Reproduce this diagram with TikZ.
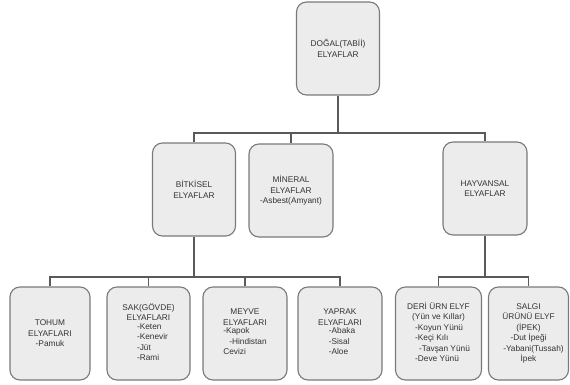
\documentclass[tikz,border=0pt]{standalone}
\usepackage{fontspec}
\setmainfont{Liberation Sans}
\definecolor{boxfill}{HTML}{ECECEC}
\definecolor{boxline}{HTML}{7A7A7A}
\definecolor{txt}{HTML}{333333}
\definecolor{conn}{HTML}{5A5A5A}
\begin{document}
\begin{tikzpicture}[x=1pt,y=-1pt,
  fbox/.style={draw=boxline, line width=1.1pt, fill=boxfill, rounded corners=10pt,
    minimum width=82pt, minimum height=93pt, inner sep=1pt, align=center,
    text=txt, font=\fontsize{8.3}{10.5}\selectfont},
  wire/.style={draw=conn, line width=1.3pt}]
\useasboundingbox (0,0) rectangle (570,385);
\fill[white] (0,0) rectangle (570,385);
\newcommand{\items}[1]{\begin{tabular}{@{}l@{}}#1\end{tabular}}
% level 1
\node[fbox, minimum width=83pt] (top) at (338,48.5) {DOĞAL(TABİİ)\\ELYAFLAR};
% level 2
\node[fbox, minimum width=83pt] (bit) at (194,189.5) {BİTKİSEL\\ELYAFLAR};
\node[fbox, minimum width=84pt] (min) at (291,190.5) {MİNERAL\\ELYAFLAR\\-Asbest(Amyant)};
\node[fbox, minimum width=84pt] (hay) at (485,188.5) {HAYVANSAL\\ELYAFLAR};
% level 3
\node[fbox, minimum width=80pt] (toh) at (50,333.5) {TOHUM\\ELYAFLARI\\-Pamuk};
\node[fbox, minimum width=83pt] (sak) at (148.5,333.5) {SAK(GÖVDE)\\ELYAFLARI\\\hspace*{8pt}\items{-Keten\\-Kenevir\\-Jüt\\-Rami}};
\node[fbox, minimum width=84pt] (mey) at (245,333.5) {MEYVE\\ELYAFLARI\\\items{-Kapok\\\hspace*{6pt}-Hindistan\\Cevizi}};
\node[fbox, minimum width=84pt] (yap) at (340,333.5) {YAPRAK\\ELYAFLARI\\\hspace*{4pt}\items{-Abaka\\-Sisal\\-Aloe}};
\node[fbox, minimum width=86pt] (der) at (438.5,333.5) {DERİ ÜRN ELYF\\(Yün ve Kıllar)\\\hspace*{8pt}\items{-Koyun Yünü\\-Keçi Kılı\\\hspace*{4pt}-Tavşan Yünü\\-Deve Yünü}};
\node[fbox, minimum width=80pt] (sal) at (528.5,333.5) {SALGI\\ÜRÜNÜ ELYF\\(İPEK)\\-Dut İpeği\\\hspace*{10pt}-Yabani(Tussah)\\İpek};
% buses
\coordinate (b1) at (338,133);
\coordinate (b2) at (194,277);
\coordinate (b3) at (485,277);
\draw[wire] (top.south) -- (b1);
\draw[wire] (b1) -| (bit.north);
\draw[wire] (b1) -| (hay.north);
\draw[wire] (min.north) -- (min.north |- b1);
\draw[wire] (bit.south) -- (b2);
\draw[wire] (b2) -| (toh.north);
\draw[wire] (b2) -| (yap.north);
\draw[wire] (sak.north) -- (sak.north |- b2);
\draw[wire] (mey.north) -- (mey.north |- b2);
\draw[wire] (hay.south) -- (b3);
\draw[wire] (b3) -| (der.north);
\draw[wire] (b3) -| (sal.north);
\end{tikzpicture}
\end{document}
